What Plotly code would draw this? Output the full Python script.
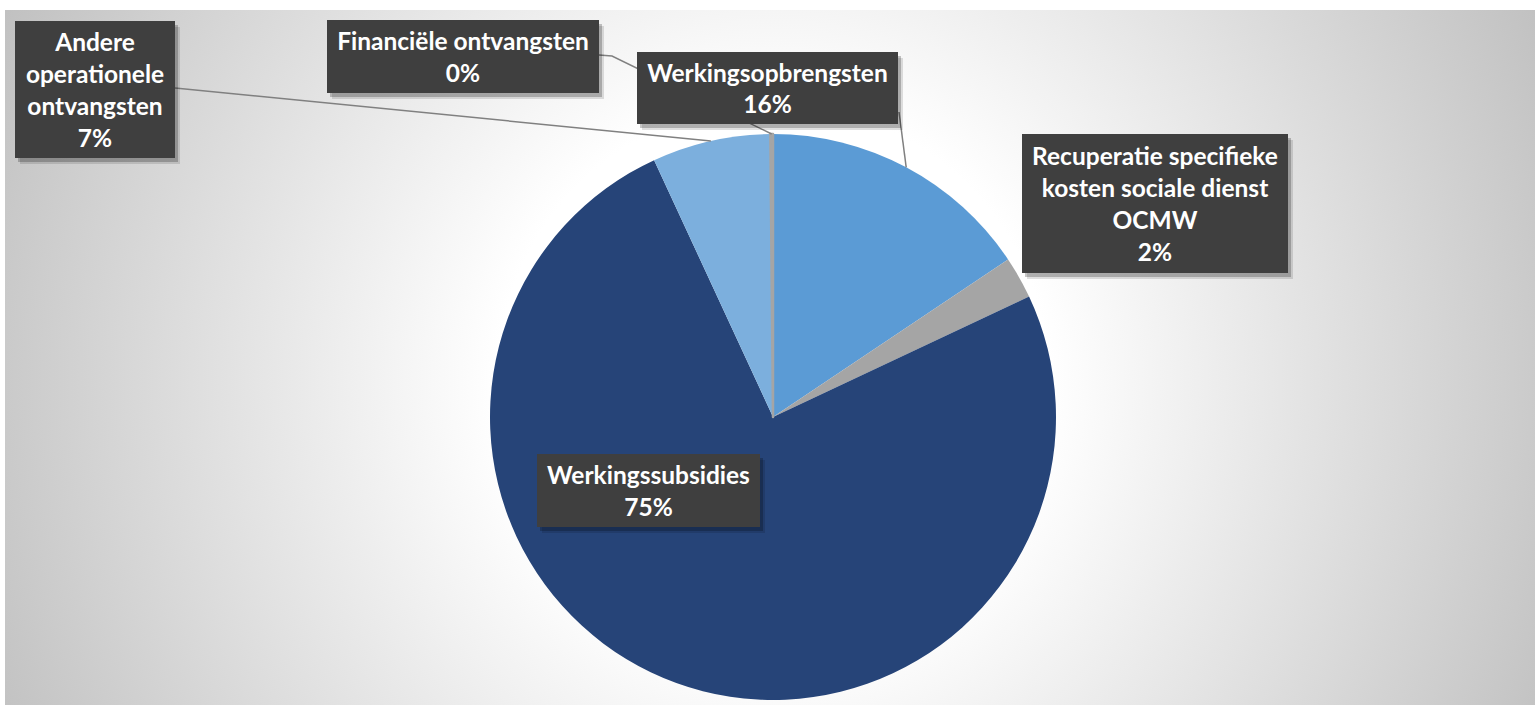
import base64
import math
import plotly.graph_objects as go

# ---------------- data ----------------
categories = [
    "Werkingsopbrengsten",
    "Recuperatie specifieke kosten sociale dienst OCMW",
    "Werkingssubsidies",
    "Andere operationele ontvangsten",
    "Financiële ontvangsten",
]
values = [15.6, 2.4, 75.1, 6.75, 0.15]
label_lines = [
    ["Werkingsopbrengsten"],
    ["Recuperatie specifieke", "kosten sociale dienst", "OCMW"],
    ["Werkingssubsidies"],
    ["Andere", "operationele", "ontvangsten"],
    ["Financiële ontvangsten"],
]
colors = ["#5B9BD5", "#A5A5A5", "#264478", "#7CAFDD", "#A5A5A5"]
border_widths = [0, 0, 0, 0, 2.5]

# ---------------- layout geometry (pixels) ----------------
W, H = 1540, 714
CX, CY, R = 773, 417, 283

# label boxes: (x0, y0, x1, y1) in pixels
boxes = {
    "Financiële ontvangsten": (327, 20, 599, 93),
    "Andere operationele ontvangsten": (15, 21, 175, 158),
    "Werkingsopbrengsten": (637, 52, 898, 124),
    "Recuperatie specifieke kosten sociale dienst OCMW": (1022, 134, 1288, 273),
    "Werkingssubsidies": (537, 454, 760, 527),
}
# where each leader line leaves its box (pixels); None = no leader line
leader_start = {
    "Financiële ontvangsten": [(599, 55), (612, 56)],
    "Andere operationele ontvangsten": [(175, 88)],
    "Werkingsopbrengsten": [(899, 112)],
    "Recuperatie specifieke kosten sociale dienst OCMW": None,
    "Werkingssubsidies": None,
}
draw_order = [
    "Financiële ontvangsten",
    "Andere operationele ontvangsten",
    "Werkingsopbrengsten",
    "Recuperatie specifieke kosten sociale dienst OCMW",
    "Werkingssubsidies",
]


def px(x):
    return x / W


def py(y):
    return 1 - y / H


total = sum(values)
mid_pts = {}
cum = 0.0
for c, v in zip(categories, values):
    a = 2 * math.pi * (cum + v / 2) / total
    mid_pts[c] = (CX + R * math.sin(a), CY - R * math.cos(a))
    cum += v
pct = {c: round(v / total * 100) for c, v in zip(categories, values)}

fig = go.Figure()
fig.add_trace(
    go.Pie(
        labels=categories,
        values=values,
        sort=False,
        direction="clockwise",
        rotation=0,
        marker=dict(colors=colors, line=dict(width=border_widths, color=colors)),
        textinfo="none",
        showlegend=False,
        domain=dict(x=[px(CX - R), px(CX + R)], y=[py(CY + R), py(CY - R)]),
    )
)

# background radial gradient (chart area)
bx0, by0, bx1, by1 = 5, 10, 1535, 705
bw, bh = bx1 - bx0, by1 - by0
svg = (
    f'<svg xmlns="http://www.w3.org/2000/svg" width="{bw}" height="{bh}" viewBox="0 0 {bw} {bh}">'
    f'<defs><radialGradient id="g" gradientUnits="userSpaceOnUse" cx="{CX - bx0}" cy="{380 - by0}" r="860">'
    '<stop offset="0" stop-color="#ffffff"/><stop offset="0.32" stop-color="#ffffff"/>'
    '<stop offset="1" stop-color="#c0c0c0"/></radialGradient></defs>'
    f'<rect width="{bw}" height="{bh}" fill="url(#g)"/></svg>'
)
src = "data:image/svg+xml;base64," + base64.b64encode(svg.encode()).decode()

shapes = []
annotations = []
for c in draw_order:
    x0, y0, x1, y1 = boxes[c]
    # leader line
    if leader_start[c]:
        pts = leader_start[c] + [mid_pts[c]]
        path = "M " + " L ".join(f"{px(x):.5f},{py(y):.5f}" for x, y in pts)
        shapes.append(dict(type="path", xref="paper", yref="paper", path=path,
                           line=dict(color="#808080", width=1.5), layer="above"))
    # shadow
    for off, alpha in [(5, 0.12), (3, 0.22)]:
        shapes.append(dict(type="rect", xref="paper", yref="paper",
                           x0=px(x0 + off), x1=px(x1 + off), y0=py(y0 + off + 1), y1=py(y1 + off + 1),
                           fillcolor=f"rgba(0,0,0,{alpha})", line=dict(width=0), layer="above"))
    txt = "<br>".join(f"<b>{t}</b>" for t in label_lines[categories.index(c)] + [f"{pct[c]}%"])
    annotations.append(dict(
        xref="paper", yref="paper", x=px((x0 + x1) / 2), y=py((y0 + y1) / 2),
        xanchor="center", yanchor="middle", width=x1 - x0, height=y1 - y0,
        text=txt, showarrow=False, align="center", valign="middle",
        bgcolor="#3F3F3F", borderpad=0, borderwidth=0,
        font=dict(family="Lato", size=24.5, color="#FFFFFF"),
    ))

fig.update_layout(
    width=W, height=H,
    margin=dict(l=0, r=0, t=0, b=0),
    paper_bgcolor="#FFFFFF",
    plot_bgcolor="#FFFFFF",
    images=[dict(source=src, xref="paper", yref="paper", x=px(bx0), y=py(by0),
                 sizex=bw / W, sizey=bh / H, sizing="stretch", layer="below",
                 xanchor="left", yanchor="top")],
    shapes=shapes,
    annotations=annotations,
)

fig.write_html(
    "out.html",
    config={"displayModeBar": False},
    post_script="document.body.style.margin='0';document.body.style.overflow='hidden';",
)
